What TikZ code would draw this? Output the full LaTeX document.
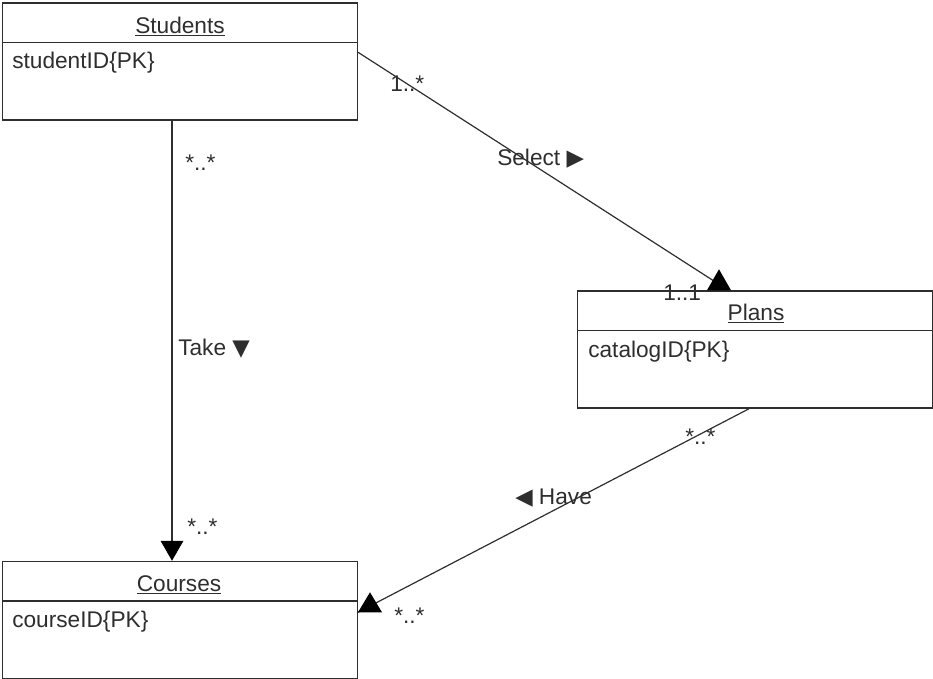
\documentclass[tikz,border=0pt]{standalone}
\usepackage{fontspec}
\setmainfont{Liberation Sans}
\newfontfamily\symfont{DejaVu Sans}
\usetikzlibrary{calc}
\definecolor{ink}{HTML}{2E2E2E}
\begin{document}
\begin{tikzpicture}[x=0.75pt,y=-0.75pt,
  entity/.style={draw=ink, line width=1.1pt, minimum width=265.9pt,
                 minimum height=87.75pt, inner sep=0pt},
  divider/.style={draw=ink, line width=1.1pt},
  txt/.style={anchor=base west, inner sep=0pt, text=ink,
              font=\fontsize{17pt}{19pt}\selectfont},
  title/.style={anchor=base, inner sep=0pt, text=ink,
                font=\fontsize{17pt}{19pt}\selectfont},
  assoc/.style={draw=ink, line width=0.9pt},
  navhead/.style={fill=black}]

\useasboundingbox (0,0) rectangle (933,679);

% entity boxes
\node[entity] (Students) at (180,61.5) {};
\node[entity] (Plans)    at (755,349.5) {};
\node[entity] (Courses)  at (180,620) {};

\draw[divider] ($(Students.north west)+(0,40)$) -- ($(Students.north east)+(0,40)$);
\draw[divider] ($(Plans.north west)+(0,40)$) -- ($(Plans.north east)+(0,40)$);
\draw[divider] ($(Courses.north west)+(0,40)$) -- ($(Courses.north east)+(0,40)$);

% entity names and keys
\node[title] (studentsT) at (180,33)  {\underline{Students}};
\node[txt]   (studentsA) at (12,68)   {studentID\{PK\}};
\node[title] (plansT)    at (756,320) {\underline{Plans}};
\node[txt]   (plansA)    at (588,357) {catalogID\{PK\}};
\node[title] (coursesT)  at (179,591) {\underline{Courses}};
\node[txt]   (coursesA)  at (12,627)  {courseID\{PK\}};

% Select: Students -> Plans
\coordinate (selA) at ($(Students.north east)+(0,50)$);
\coordinate (selB) at ($(Plans.north west)+(142,0)$);
\draw[assoc] (selA) -- ($(selB)+(0,-6)$);
\fill[navhead] ($(selB)+(0,-21)$) -- ($(selB)+(12,0)$) -- ($(selB)+(-12,0)$) -- cycle;

% Take: Students -> Courses
\coordinate (takeA) at ($(Students.south west)+(170,0)$);
\coordinate (takeB) at ($(Courses.north west)+(170,0)$);
\draw[assoc] (takeA) -- ($(takeB)+(0,-15)$);
\fill[navhead] (takeB) -- ($(takeB)+(11.5,-20)$) -- ($(takeB)+(-11.5,-20)$) -- cycle;

% Have: Plans -> Courses
\coordinate (haveA) at ($(Plans.south west)+(172,0)$);
\coordinate (haveB) at ($(Courses.north east)+(0,51.5)$);
\draw[assoc] (haveA) -- (haveB);
\fill[navhead] (haveB) -- ($(haveB)+(12,-20)$) -- ($(haveB)+(24,0)$) -- cycle;

% multiplicities
\node[txt] (m1) at (390,91)  {1..*};
\node[txt] (m2) at (663,300) {1..1};
\node[txt] (m3) at (185,170) {*..*};
\node[txt] (m4) at (187,534) {*..*};
\node[txt] (m5) at (394,623) {*..*};
\node[txt] (m6) at (685,444) {*..*};

% association names
\node[txt] (selL)  at (497,165) {Select {\symfont ▶}};
\node[txt] (takeL) at (178,355) {Take {\symfont ▼}};
\node[txt] (haveL) at (515,504) {{\symfont ◀} Have};
\end{tikzpicture}
\end{document}
